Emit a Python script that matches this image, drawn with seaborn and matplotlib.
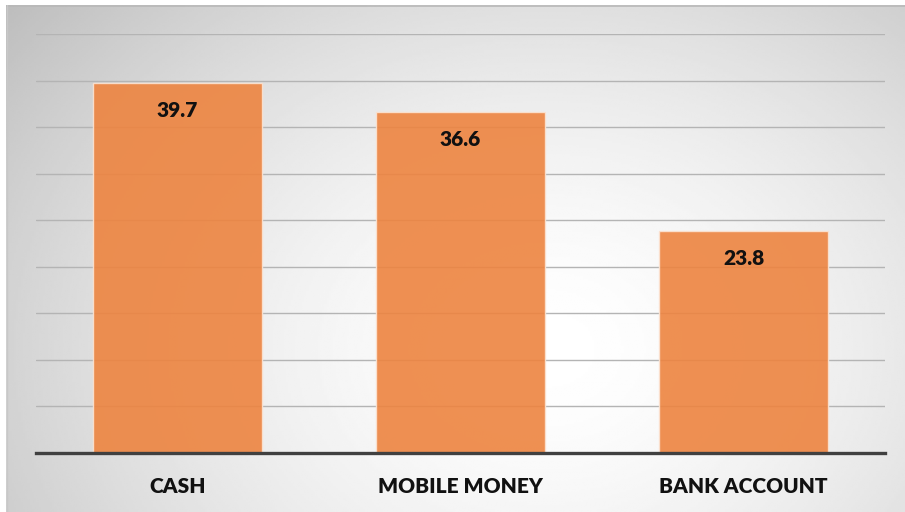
import numpy as np
import pandas as pd
import matplotlib
matplotlib.use("Agg")
import matplotlib.pyplot as plt
import seaborn as sns

categories = ["CASH", "MOBILE MONEY", "BANK ACCOUNT"]
values = [39.7, 36.6, 23.8]
y_ticks = [0, 5, 10, 15, 20, 25, 30, 35, 40, 45]

sns.set_style("white")
plt.rcParams["font.family"] = ["Lato", "DejaVu Sans"]

W, H = 905, 512
fig = plt.figure(figsize=(W / 100, H / 100), dpi=100)
fig.patch.set_facecolor("white")

# radial grey-to-white backdrop panel
bg = fig.add_axes([6 / W, 0, 1 - 6 / W, 1 - 5 / H])
bg.set_axis_off()
gx, gy = np.meshgrid(np.linspace(0, 1, 400), np.linspace(0, 1, 240))
cx, cy = 0.6, 0.68
r = np.sqrt(((gx - cx) / 0.72) ** 2 + ((gy - cy) / 1.0) ** 2)
shade = 1.0 - 0.23 * np.clip(r, 0, 1.1) ** 1.6
bg.imshow(shade, cmap="gray", vmin=0, vmax=1, aspect="auto",
          extent=[0, 1, 1, 0], interpolation="bilinear")
bg.plot([0, 1], [0.998, 0.998], color="#b8b8b8", lw=1.2, transform=bg.transAxes)
bg.plot([0.001, 0.001], [0, 1], color="#c8c8c8", lw=1.0, transform=bg.transAxes)

ax = fig.add_axes([36 / W, (H - 453) / H, (885 - 36) / W, (453 - 34) / H])
ax.patch.set_alpha(0)

df = pd.DataFrame({"category": categories, "value": values})
sns.barplot(data=df, x="category", y="value", color="#ED8440", width=0.6,
            alpha=0.9, saturation=1, edgecolor="#fbe3d2", linewidth=1.0,
            ax=ax, zorder=3)

ax.set_ylim(0, 45)
ax.set_xlim(-0.5, 2.5)
ax.set_yticks(y_ticks)
ax.yaxis.grid(True, color="#b4b4b4", linewidth=1.0, zorder=0)
ax.set_axisbelow(True)
ax.tick_params(axis="y", left=False, labelleft=False)
ax.tick_params(axis="x", bottom=False, pad=14)
for s in ["top", "right", "left"]:
    ax.spines[s].set_visible(False)
ax.spines["bottom"].set_color("#404040")
ax.spines["bottom"].set_linewidth(2.4)
ax.spines["bottom"].set_zorder(5)
ax.set_xlabel("")
ax.set_ylabel("")
for lbl in ax.get_xticklabels():
    lbl.set_fontsize(15)
    lbl.set_fontweight("heavy")
    lbl.set_color("#111111")

for i, v in enumerate(values):
    ax.text(i, v - 2.9, f"{v}", ha="center", va="center", fontsize=15,
            fontweight="heavy", color="#111111", zorder=6)

fig.savefig("out.png", dpi=100)
